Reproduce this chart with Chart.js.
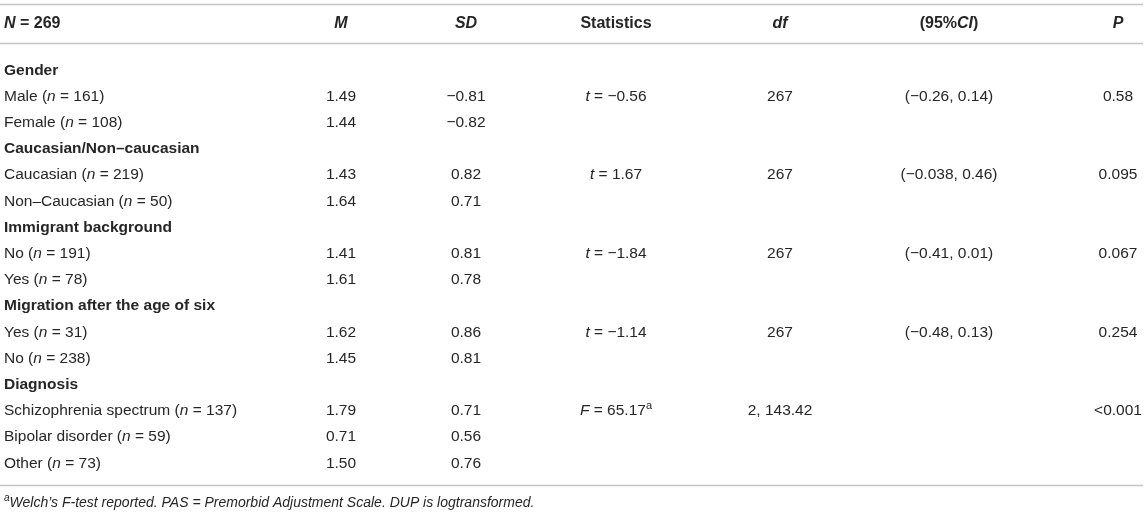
<!DOCTYPE html>
<html>
<head>
<meta charset="utf-8">
<script src="https://cdn.jsdelivr.net/npm/chart.js@4/dist/chart.umd.min.js"></script>
<style>
  html, body { margin: 0; padding: 0; background: #fff; }
  #wrap { width: 1146px; height: 514px; position: relative; }
</style>
</head>
<body>
<div id="wrap"><canvas id="tbl"></canvas></div>
<script>
// markup in texts: _italic_  ^superscript^
const headers = ['_N_ = 269', '_M_', '_SD_', 'Statistics', '_df_', '(95%_CI_)', '_P_'];
const groups = ['Gender', 'Caucasian/Non–caucasian', 'Immigrant background', 'Migration after the age of six', 'Diagnosis'];
const groupSizes = [2, 2, 2, 2, 3];
const subgroups = [
  'Male (_n_ = 161)', 'Female (_n_ = 108)',
  'Caucasian (_n_ = 219)', 'Non–Caucasian (_n_ = 50)',
  'No (_n_ = 191)', 'Yes (_n_ = 78)',
  'Yes (_n_ = 31)', 'No (_n_ = 238)',
  'Schizophrenia spectrum (_n_ = 137)', 'Bipolar disorder (_n_ = 59)', 'Other (_n_ = 73)'
];
const meanValues = [1.49, 1.44, 1.43, 1.64, 1.41, 1.61, 1.62, 1.45, 1.79, 0.71, 1.50];
const sdValues = [-0.81, -0.82, 0.82, 0.71, 0.81, 0.78, 0.86, 0.81, 0.71, 0.56, 0.76];
const statistics = ['_t_ = −0.56', '_t_ = 1.67', '_t_ = −1.84', '_t_ = −1.14', '_F_ = 65.17^a^'];
const dfValues = ['267', '267', '267', '267', '2, 143.42'];
const ciLow = [-0.26, -0.038, -0.41, -0.48, null];
const ciHigh = [0.14, 0.46, 0.01, 0.13, null];
const pValues = ['0.58', '0.095', '0.067', '0.254', '<0.001'];
const footnote = '^a^_Welch’s F-test reported. PAS = Premorbid Adjustment Scale. DUP is logtransformed._';

// layout
const TABLE_W = 1146, TABLE_H = 514;
const COL_X = [4, 341, 466, 616, 780, 949, 1118];
const FIRST_ROW_Y = 69, ROW_PITCH = 26.2;
const HEADER_ROW = (22 - FIRST_ROW_Y) / ROW_PITCH;
const RULES = [(4 - FIRST_ROW_Y) / ROW_PITCH, (43 - FIRST_ROW_Y) / ROW_PITCH, (485 - FIRST_ROW_Y) / ROW_PITCH];
const FOOT_ROW = (502 - FIRST_ROW_Y) / ROW_PITCH;
const FONT = '"Liberation Sans", Arial, Helvetica, sans-serif';
const TEXT = '#262626';

const num = v => v.toFixed(2).replace('-', '−');
const sig = v => String(v).replace('-', '−');

// build cells
const headCells = [], groupCells = [], bodyCells = [];
headers.forEach((h, c) => headCells.push({ x: COL_X[c], y: HEADER_ROW, t: h, left: c === 0 }));
let row = 0, s = 0;
groups.forEach((g, gi) => {
  groupCells.push({ x: COL_X[0], y: row, t: g, left: true });
  row++;
  for (let k = 0; k < groupSizes[gi]; k++, s++, row++) {
    bodyCells.push({ x: COL_X[0], y: row, t: subgroups[s], left: true });
    bodyCells.push({ x: COL_X[1], y: row, t: num(meanValues[s]) });
    bodyCells.push({ x: COL_X[2], y: row, t: num(sdValues[s]) });
    if (k === 0) {
      bodyCells.push({ x: COL_X[3], y: row, t: statistics[gi] });
      bodyCells.push({ x: COL_X[4], y: row, t: dfValues[gi] });
      if (ciLow[gi] !== null) bodyCells.push({ x: COL_X[5], y: row, t: '(' + sig(ciLow[gi]) + ', ' + sig(ciHigh[gi]) + ')' });
      bodyCells.push({ x: COL_X[6], y: row, t: pValues[gi] });
    }
  }
});
const footCells = [{ x: COL_X[0], y: FOOT_ROW, t: footnote, left: true }];

function parts(str) {
  return str.split(/(_[^_]+_|\^[^^]+\^)/).filter(p => p).map(p => {
    if (p[0] === '_') return { s: p.slice(1, -1), it: true };
    if (p[0] === '^') return { s: p.slice(1, -1), sup: true };
    return { s: p };
  });
}

function drawRich(ctx, str, x, y, opt) {
  const segs = parts(str);
  const fontOf = seg => (seg.it || opt.italic ? 'italic ' : '') + (opt.bold ? 'bold ' : '') +
    (seg.sup ? Math.round(opt.size * 0.7) : opt.size) + 'px ' + FONT;
  let w = 0;
  segs.forEach(seg => { ctx.font = fontOf(seg); seg.w = ctx.measureText(seg.s).width; w += seg.w; });
  let cx = opt.left ? x : x - w / 2;
  const base = y + opt.size * 0.36;
  segs.forEach(seg => {
    ctx.font = fontOf(seg);
    ctx.fillText(seg.s, cx, seg.sup ? base - opt.size * 0.4 : base);
    cx += seg.w;
  });
}

const tableText = {
  id: 'tableText',
  beforeDatasetsDraw(chart) {
    const { ctx, chartArea, scales } = chart;
    ctx.save();
    ctx.strokeStyle = '#c4c4c4';
    ctx.lineWidth = 1.6;
    RULES.forEach(r => {
      const y = Math.round(scales.y.getPixelForValue(r)) + 0.5;
      ctx.beginPath();
      ctx.moveTo(chartArea.left, y);
      ctx.lineTo(chartArea.right - 3, y);
      ctx.stroke();
    });
    ctx.restore();
  },
  afterDatasetsDraw(chart) {
    const { ctx } = chart;
    ctx.save();
    ctx.fillStyle = TEXT;
    ctx.textBaseline = 'alphabetic';
    ctx.textAlign = 'left';
    chart.data.datasets.forEach((ds, i) => {
      const meta = chart.getDatasetMeta(i);
      meta.data.forEach((el, j) => {
        const cell = ds.data[j];
        drawRich(ctx, cell.t, el.x, el.y, { left: cell.left, bold: ds.bold, italic: ds.italic, size: ds.fontSize });
      });
    });
    ctx.restore();
  }
};

const pt = { pointRadius: 0, pointHoverRadius: 0, showLine: false };
new Chart(document.getElementById('tbl'), {
  type: 'scatter',
  data: {
    datasets: [
      Object.assign({ label: 'header', data: headCells, bold: true, fontSize: 16 }, pt),
      Object.assign({ label: 'groups', data: groupCells, bold: true, fontSize: 15.5 }, pt),
      Object.assign({ label: 'cells', data: bodyCells, fontSize: 15.5 }, pt),
      Object.assign({ label: 'note', data: footCells, italic: true, fontSize: 14 }, pt)
    ]
  },
  options: {
    responsive: true,
    maintainAspectRatio: false,
    animation: false,
    events: [],
    layout: { padding: 0 },
    scales: {
      x: { type: 'linear', display: false, min: 0, max: TABLE_W },
      y: {
        type: 'linear', display: false, reverse: true,
        min: -FIRST_ROW_Y / ROW_PITCH,
        max: (TABLE_H - FIRST_ROW_Y) / ROW_PITCH
      }
    },
    plugins: { legend: { display: false }, tooltip: { enabled: false } }
  },
  plugins: [tableText]
});
</script>
</body>
</html>
